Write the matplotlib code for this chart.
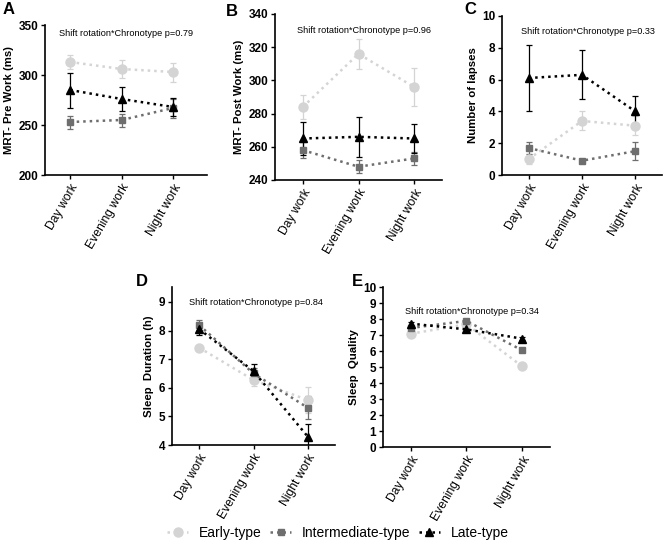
import numpy as np
import matplotlib.pyplot as plt
from matplotlib.lines import Line2D

plt.rcParams['font.family'] = ['Liberation Sans', 'DejaVu Sans']

shifts = ['Day work', 'Evening work', 'Night work']
groups = ['Early-type', 'Intermediate-type', 'Late-type']

# panel A: MRT pre work
pre_mean = {'Early-type': [313, 306, 303],
            'Intermediate-type': [253, 255, 267],
            'Late-type': [285, 276, 268]}
pre_err = {'Early-type': [7, 9, 9.5],
           'Intermediate-type': [6.5, 6.5, 9.5],
           'Late-type': [17.5, 12, 9]}

# panel B: MRT post work
post_mean = {'Early-type': [284, 316, 296],
             'Intermediate-type': [258, 248, 253],
             'Late-type': [265, 266, 265]}
post_err = {'Early-type': [7, 9, 11.5],
            'Intermediate-type': [5, 4, 4],
            'Late-type': [10, 12, 9]}

# panel C: lapses
lapse_mean = {'Early-type': [1.0, 3.4, 3.1],
              'Intermediate-type': [1.7, 0.9, 1.5],
              'Late-type': [6.1, 6.3, 4.0]}
lapse_err = {'Early-type': [0.3, 0.6, 0.6],
             'Intermediate-type': [0.4, 0.1, 0.55],
             'Late-type': [2.05, 1.55, 1.0]}

# panel D: sleep duration
dur_mean = {'Early-type': [7.4, 6.27, 5.57],
            'Intermediate-type': [8.19, 6.5, 5.3],
            'Late-type': [8.05, 6.58, 4.29]}
dur_err = {'Early-type': [0.05, 0.2, 0.44],
           'Intermediate-type': [0.17, 0.2, 0.4],
           'Late-type': [0.2, 0.25, 0.43]}

# panel E: sleep quality
qual_mean = {'Early-type': [7.08, 7.67, 5.04],
             'Intermediate-type': [7.44, 7.88, 6.04],
             'Late-type': [7.71, 7.35, 6.77]}
qual_err = {'Early-type': [0.1, 0.1, 0.1],
            'Intermediate-type': [0.1, 0.1, 0.1],
            'Late-type': [0.1, 0.1, 0.1]}

style = {'Early-type': dict(color='#d4d4d4', marker='o', ms=6.5),
         'Intermediate-type': dict(color='#6e6e6e', marker='s', ms=4.5),
         'Late-type': dict(color='black', marker='^', ms=5.5)}
dots = (0, (1, 1.6))

W, H = 667, 542
fig = plt.figure(figsize=(W / 100, H / 100), dpi=100)


def make_ax(l, r, t, b):
    return fig.add_axes([l / W, 1 - b / H, (r - l) / W, (b - t) / H])


def panel(ax, means, errs, ylim, yticks, ylabel, ptext, tx, ty, letter, lx, ly, xlim=(-0.5, 2.5)):
    x = np.arange(len(shifts))
    for g in groups:
        s = style[g]
        ax.errorbar(x, means[g], yerr=errs[g], color=s['color'], marker=s['marker'],
                    ms=s['ms'], linestyle=dots, lw=1.8, capsize=2.2, elinewidth=0.9,
                    capthick=0.9, ecolor=s['color'])
    ax.set_xlim(*xlim)
    ax.set_ylim(*ylim)
    ax.set_yticks(yticks)
    ax.set_xticks(x)
    ax.set_xticklabels(shifts, rotation=60, ha='right', rotation_mode='anchor', fontsize=8.7)
    for lab in ax.get_yticklabels():
        lab.set_fontweight('bold')
        lab.set_fontsize(8.5)
    ax.set_ylabel(ylabel, fontweight='bold', fontsize=8.2, labelpad=3)
    ax.spines['top'].set_visible(False)
    ax.spines['right'].set_visible(False)
    ax.spines['left'].set_linewidth(1.2)
    ax.spines['bottom'].set_linewidth(1.2)
    ax.tick_params(width=1, length=3, pad=2)
    ax.text(tx, ty, ptext, transform=ax.transAxes, ha='center', va='center', fontsize=6.6)
    fig.text(lx / W, 1 - ly / H, letter, fontsize=12, fontweight='bold', va='center')


axA = make_ax(45, 207, 25, 175)
panel(axA, pre_mean, pre_err, (200, 350), [200, 250, 300, 350], 'MRT- Pre Work (ms)',
      'Shift rotation*Chronotype p=0.79', 0.5, 0.945, 'A', 3, 9, xlim=(-0.49, 2.66))

axB = make_ax(275, 442, 14, 180)
panel(axB, post_mean, post_err, (240, 340), np.arange(240, 341, 20), 'MRT- Post Work (ms)',
      'Shift rotation*Chronotype p=0.96', 0.53, 0.9, 'B', 226, 11)

axC = make_ax(502, 662, 16, 175)
panel(axC, lapse_mean, lapse_err, (0, 10), np.arange(0, 11, 2), 'Number of lapses',
      'Shift rotation*Chronotype p=0.33', 0.535, 0.905, 'C', 464, 9)

axD = make_ax(172, 335, 287, 445)
panel(axD, dur_mean, dur_err, (4, 9.52), np.arange(4, 10), 'Sleep  Duration (h)',
      'Shift rotation*Chronotype p=0.84', 0.515, 0.905, 'D', 136, 282)

axE = make_ax(383, 550, 287, 447)
panel(axE, qual_mean, qual_err, (0, 10), np.arange(0, 11), 'Sleep  Quality',
      'Shift rotation*Chronotype p=0.34', 0.53, 0.85, 'E', 352, 282)

handles = [Line2D([], [], color=style[g]['color'], marker=style[g]['marker'],
                  ms=style[g]['ms'], linestyle=dots, lw=1.8) for g in groups]
fig.legend(handles, groups, loc='center', bbox_to_anchor=(338 / W, 1 - 533 / H), ncol=3,
           frameon=False, fontsize=10, handlelength=1.5, handletextpad=0.8, columnspacing=0.6)

fig.savefig('out.png', dpi=100)
